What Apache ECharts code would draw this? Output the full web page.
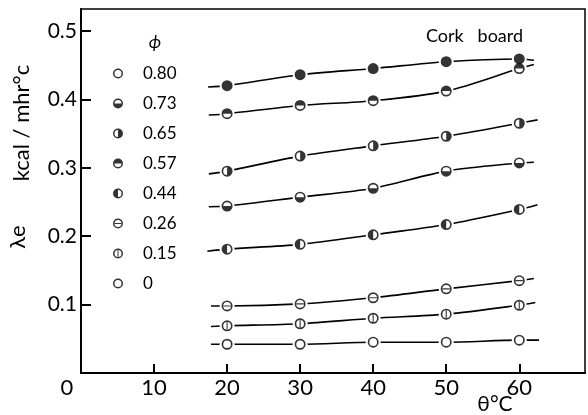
<!DOCTYPE html>
<html>
<head>
<meta charset="utf-8">
<script src="https://cdn.jsdelivr.net/npm/echarts@6/dist/echarts.min.js"></script>
<style>
  html, body { margin: 0; padding: 0; background: #fff; }
  #chart { width: 588px; height: 415px; }
</style>
</head>
<body>
<div id="chart"></div>
<script>
// temperatures (deg C) and thermal conductivity per moisture fraction phi
var temps = [20, 30, 40, 50, 60];
var phiNames = ['0.80', '0.73', '0.65', '0.57', '0.44', '0.26', '0.15', '0'];
var k080 = [0.420, 0.436, 0.445, 0.455, 0.459];
var k073 = [0.379, 0.391, 0.398, 0.412, 0.445];
var k065 = [0.295, 0.317, 0.332, 0.346, 0.365];
var k057 = [0.244, 0.257, 0.270, 0.295, 0.307];
var k044 = [0.181, 0.188, 0.202, 0.217, 0.239];
var k026 = [0.098, 0.101, 0.110, 0.123, 0.135];
var k015 = [0.069, 0.072, 0.080, 0.086, 0.099];
var k000 = [0.042, 0.042, 0.045, 0.045, 0.048];
// where each hand-drawn curve starts and stops
var curveStart = [[17.4, 0.418], [17.5, 0.377], [17.5, 0.291], [17.5, 0.243], [17.3, 0.178], [17.8, 0.098], [17.8, 0.068], [17.8, 0.042]];
var curveEnd = [[62, 0.457], [62, 0.451], [62.5, 0.370], [62, 0.308], [62.5, 0.246], [62, 0.138], [62.2, 0.103], [62.7, 0.048]];
var xLabels = [0, 10, 20, 30, 40, 50, 60];
var xTicks = [10, 20, 30, 40, 50, 60];
var yTicks = [0.1, 0.2, 0.3, 0.4, 0.5];

var allK = [k080, k073, k065, k057, k044, k026, k015, k000];

var RING = 'M0 10A10 10 0 1 1 20 10A10 10 0 1 1 0 10ZM3 10A7 7 0 1 0 17 10A7 7 0 1 0 3 10Z';
var SYM = {
  open: 'path://' + RING,
  full: 'path://M0 10A10 10 0 1 1 20 10A10 10 0 1 1 0 10Z',
  top: 'path://' + RING + 'M3 10A7 7 0 0 1 17 10Z',
  bottom: 'path://' + RING + 'M3 10A7 7 0 0 0 17 10Z',
  left: 'path://' + RING + 'M10 3A7 7 0 0 0 10 17Z',
  right: 'path://' + RING + 'M10 3A7 7 0 0 1 10 17Z',
  hbar: 'path://' + RING + 'M3.5 9H16.5V11H3.5Z',
  vbar: 'path://' + RING + 'M9 3.5H11V16.5H9Z'
};
var plotSym = ['full', 'top', 'right', 'bottom', 'left', 'hbar', 'vbar', 'open'];
var legendSym = ['open', 'bottom', 'right', 'top', 'left', 'hbar', 'vbar', 'open'];

var FONT = 'Lato';
var series = [];
allK.forEach(function (ks, i) {
  var pts = [{ value: curveStart[i], symbol: 'none' }];
  temps.forEach(function (t, j) { pts.push([t, ks[j]]); });
  pts.push({ value: curveEnd[i], symbol: 'none' });
  series.push({
    name: 'curve ' + phiNames[i],
    type: 'line',
    smooth: 0.3,
    data: pts,
    symbol: 'circle',
    symbolSize: 15,
    itemStyle: { color: '#fff' },
    lineStyle: { color: '#000', width: 1.6 },
    z: 2,
    silent: true
  });
  series.push({
    name: phiNames[i],
    type: 'scatter',
    data: temps.map(function (t, j) { return [t, ks[j]]; }),
    symbol: SYM[plotSym[i]],
    symbolSize: 11,
    itemStyle: { color: '#000', borderWidth: 0 },
    z: 3,
    silent: true
  });
});

var chart = echarts.init(document.getElementById('chart'));
chart.setOption({
  backgroundColor: '#fff',
  animation: false,
  textStyle: { fontFamily: FONT, color: '#000' },
  grid: {
    left: 81, right: 3, top: 9, bottom: 42,
    show: true, borderColor: '#000', borderWidth: 1.5
  },
  title: {
    text: 'Cork   board',
    left: 421, top: 22,
    textStyle: { fontFamily: FONT, fontSize: 18, fontWeight: 'normal', color: '#000' }
  },
  legend: {
    orient: 'vertical',
    left: 108, top: 60,
    itemWidth: 10, itemHeight: 10, itemGap: 13,
    selectedMode: false,
    textStyle: { fontFamily: FONT, fontSize: 17, color: '#000', lineHeight: 10, padding: [0, 0, 0, 15] },
    data: phiNames.map(function (n, i) {
      return { name: n, icon: SYM[legendSym[i]], itemStyle: { color: '#000', borderWidth: 0 } };
    })
  },
  xAxis: {
    type: 'value', min: 0, max: 69, interval: 10,
    splitLine: { show: false },
    axisLine: { lineStyle: { color: '#000', width: 2 } },
    axisTick: { inside: true, length: 9, lineStyle: { color: '#000', width: 2 }, customValues: xTicks },
    axisLabel: {
      customValues: xLabels, margin: 4, fontFamily: FONT, fontSize: 22, color: '#000',
      formatter: function (v) { return v === 0 ? '{o|0}' : String(v); },
      rich: { o: { fontFamily: FONT, fontSize: 22, color: '#000', padding: [0, 28, 0, 0] } }
    }
  },
  yAxis: {
    type: 'value', min: 0, max: 0.532, interval: 0.1,
    splitLine: { show: false },
    axisLine: { lineStyle: { color: '#000', width: 2 } },
    axisTick: { inside: true, length: 10, lineStyle: { color: '#000', width: 2 }, customValues: yTicks },
    axisLabel: {
      customValues: yTicks, margin: 4, fontFamily: FONT, fontSize: 21, color: '#000',
      formatter: function (v) { return v.toFixed(1); }
    }
  },
  graphic: [
    { type: 'text', x: 155, y: 42, style: { text: 'ϕ', fontFamily: FONT, fontSize: 18, fontStyle: 'italic', fill: '#000', align: 'center', verticalAlign: 'middle' } },
    { type: 'text', x: 18, y: 237, rotation: Math.PI / 2, style: { text: 'λe', fontFamily: FONT, fontSize: 22, fill: '#000', align: 'center', verticalAlign: 'middle' } },
    { type: 'text', x: 22, y: 123, rotation: Math.PI / 2, style: { text: 'kcal / mhr°c', fontFamily: FONT, fontSize: 22, fill: '#000', align: 'center', verticalAlign: 'middle' } },
    { type: 'text', x: 495, y: 404, style: { text: 'θ°C', fontFamily: FONT, fontSize: 21, fill: '#000', align: 'center', verticalAlign: 'middle' } }
  ],
  series: series
});
</script>
</body>
</html>
